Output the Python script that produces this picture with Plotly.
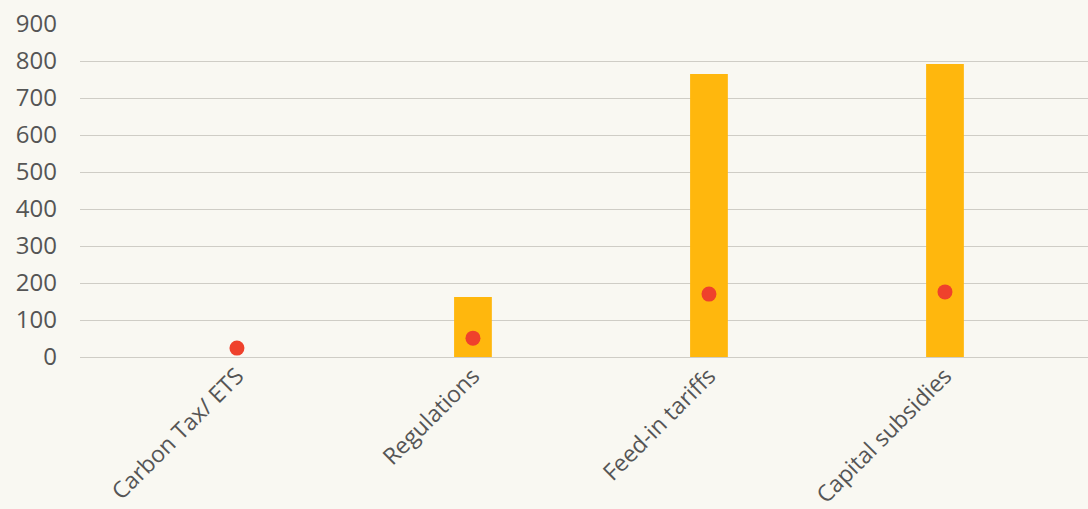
import plotly.graph_objects as go

categories = ["Carbon Tax/ ETS", "Regulations", "Feed-in tariffs", "Capital subsidies"]
bar_values = [0, 162, 765, 792]
dot_values = [24, 51, 170, 176]
y_ticks = [0, 100, 200, 300, 400, 500, 600, 700, 800, 900]

fig = go.Figure()
fig.add_trace(go.Bar(x=categories, y=bar_values, marker_color="#FFB70D",
                     marker_line_width=0, width=0.16, showlegend=False))
fig.add_trace(go.Scatter(x=categories, y=dot_values, mode="markers",
                         marker=dict(color="#EF412C", size=15), showlegend=False))

fig.update_layout(
    width=1088, height=509,
    margin=dict(l=80, r=0, t=24, b=152),
    paper_bgcolor="#F9F8F2", plot_bgcolor="#F9F8F2",
    font=dict(family="Open Sans, sans-serif", size=24, color="#555555"),
    xaxis=dict(type="category", range=[-0.665, 3.606], tickangle=-45, automargin=False,
               showgrid=False, showline=False, ticks="", tickfont=dict(size=23)),
    yaxis=dict(range=[0, 900], tickvals=y_ticks, showgrid=True, gridcolor="#CFCDC6",
               gridwidth=1, zeroline=True, zerolinecolor="#CFCDC6", zerolinewidth=1,
               automargin=False, ticklabelstandoff=22, tickfont=dict(size=24)),
)

fig.write_html("out.html")
